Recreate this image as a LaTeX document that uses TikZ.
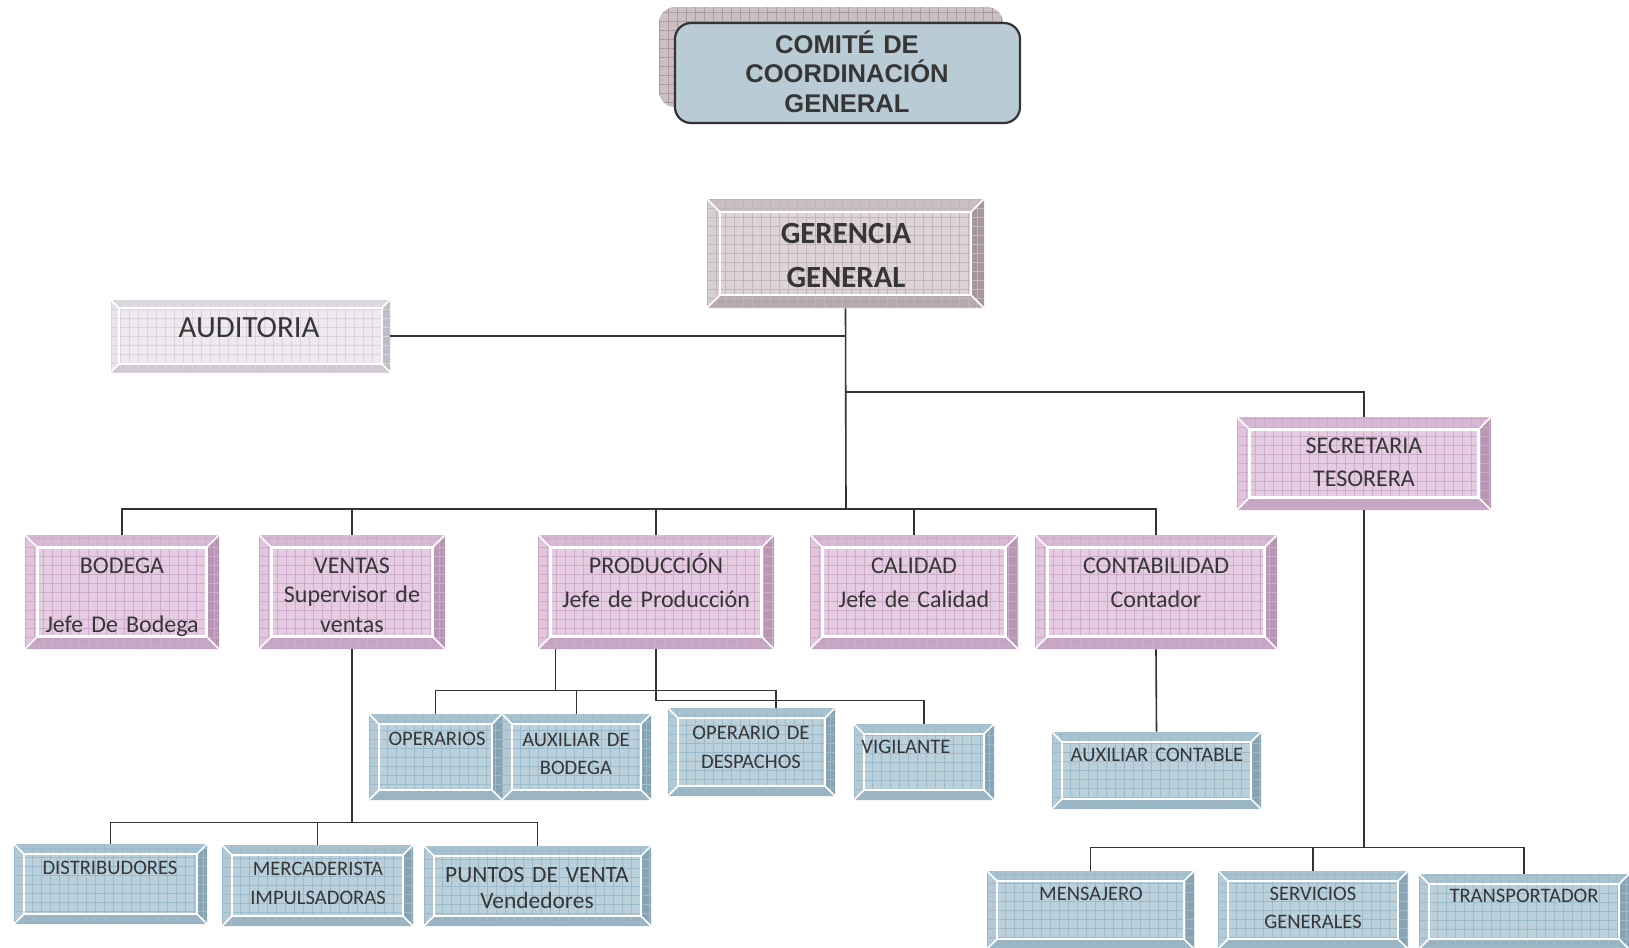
\documentclass[tikz,border=0pt]{standalone}
\usepackage{fontspec}
\setmainfont{Carlito}
\newfontfamily\arialfont{Liberation Sans}
\usetikzlibrary{fit,calc}

\definecolor{txtc}{HTML}{363636}
\definecolor{linec}{HTML}{333333}
% pink
\definecolor{pkB}{HTML}{E5CCE3}\definecolor{pkG}{HTML}{CDABCA}\definecolor{pkT}{HTML}{D8B9D5}
\definecolor{pkR}{HTML}{B797B4}\definecolor{pkD}{HTML}{C6A5C3}\definecolor{pkL}{HTML}{E0C5DD}
% gerencia
\definecolor{grB}{HTML}{DDD3D8}\definecolor{grG}{HTML}{C3B5BC}\definecolor{grT}{HTML}{CBBEC4}
\definecolor{grR}{HTML}{A6959D}\definecolor{grD}{HTML}{B7A8AF}\definecolor{grL}{HTML}{D7CDD2}
% auditoria
\definecolor{auB}{HTML}{EDE9EF}\definecolor{auG}{HTML}{D8D2DA}\definecolor{auT}{HTML}{DED8E0}
\definecolor{auR}{HTML}{C2BAC4}\definecolor{auD}{HTML}{D0C9D2}\definecolor{auL}{HTML}{E8E4EA}
% blue
\definecolor{blB}{HTML}{BAD0DB}\definecolor{blG}{HTML}{9BBACB}\definecolor{blT}{HTML}{A8C2D0}
\definecolor{blR}{HTML}{88A3B1}\definecolor{blD}{HTML}{9AB4C2}\definecolor{blL}{HTML}{B3CAD6}
% comite
\definecolor{cmB}{HTML}{B9CBD4}\definecolor{shB}{HTML}{CBC0C4}\definecolor{shG}{HTML}{A99BA1}

\def\bevw{6pt}
\tikzset{
  bw/.code={\def\bevw{#1}},
  palpink/.code={\colorlet{bvB}{pkB}\colorlet{bvG}{pkG}\colorlet{bvT}{pkT}\colorlet{bvR}{pkR}\colorlet{bvD}{pkD}\colorlet{bvL}{pkL}},
  palger/.code={\colorlet{bvB}{grB}\colorlet{bvG}{grG}\colorlet{bvT}{grT}\colorlet{bvR}{grR}\colorlet{bvD}{grD}\colorlet{bvL}{grL}},
  palaud/.code={\colorlet{bvB}{auB}\colorlet{bvG}{auG}\colorlet{bvT}{auT}\colorlet{bvR}{auR}\colorlet{bvD}{auD}\colorlet{bvL}{auL}},
  palblue/.code={\colorlet{bvB}{blB}\colorlet{bvG}{blG}\colorlet{bvT}{blT}\colorlet{bvR}{blR}\colorlet{bvD}{blD}\colorlet{bvL}{blL}},
  bev/.style={rectangle, inner sep=0pt, fill=bvB,
    path picture={
      \path (path picture bounding box.south west) coordinate (bvsw)
            (path picture bounding box.north east) coordinate (bvne)
            (path picture bounding box.north west) coordinate (bvnw)
            (path picture bounding box.south east) coordinate (bvse);
      \path ([shift={(\bevw,\bevw)}]bvsw) coordinate (bvisw)
            ([shift={(-\bevw,-\bevw)}]bvne) coordinate (bvine)
            ([shift={(\bevw,-\bevw)}]bvnw) coordinate (bvinw)
            ([shift={(-\bevw,\bevw)}]bvse) coordinate (bvise);
      \fill[bvB] (bvsw) rectangle (bvne);
      \fill[bvT] (bvnw) -- (bvne) -- (bvine) -- (bvinw) -- cycle;
      \fill[bvR] (bvne) -- (bvse) -- (bvise) -- (bvine) -- cycle;
      \fill[bvD] (bvse) -- (bvsw) -- (bvisw) -- (bvise) -- cycle;
      \fill[bvL] (bvsw) -- (bvnw) -- (bvinw) -- (bvisw) -- cycle;
      \draw[bvG, line width=0.35pt, step=4.5pt] (bvsw) grid (bvne);
      \draw[white, line width=1.1pt] (bvisw) rectangle (bvine);
      \draw[white, line width=0.8pt] (bvnw) -- (bvinw) (bvne) -- (bvine)
            (bvsw) -- (bvisw) (bvse) -- (bvise);
    }},
  pinkbox/.style={palpink, bw=6.25pt, bev},
  gerbox/.style={palger, bw=6.5pt, bev},
  audbox/.style={palaud, bw=4pt, bev},
  bluebox/.style={palblue, bw=5pt, bev},
  tn/.style={anchor=base, align=center, text width=200pt, inner sep=0pt, text=txtc},
  t12/.style={tn, font=\fontsize{12}{14.75}\selectfont},
  tb/.style={tn, font=\fontsize{10.3}{14}\selectfont},
  conn/.style={draw=linec, line width=0.8pt},
}

\begin{document}
\begin{tikzpicture}[x=0.5pt, y=-0.5pt]
\useasboundingbox (0,0) rectangle (1629,948);
\clip (0,0) rectangle (1629,948);

% Comite
\node[fit={(659,7) (1003,107)}, inner sep=0pt, rounded corners=8pt, fill=shB,
      path picture={\draw[shG, line width=0.35pt, step=4.5pt]
        (path picture bounding box.south west) grid (path picture bounding box.north east);}] (comS) {};
\node[fit={(675,23) (1020,123)}, inner sep=0pt, rounded corners=8pt, fill=cmB,
      draw=linec, line width=1.1pt] (com) {};
\node[tn, font=\arialfont\bfseries\fontsize{12.8}{14.9}\selectfont] (comT) at (847,53)
  {COMITÉ DE\\COORDINACIÓN\\GENERAL};

% main boxes
\node[gerbox, fit={(707,199) (984,308)}] (ger) {};
\node[audbox, fit={(111,300) (390,372)}] (aud) {};
\node[pinkbox, fit={(1237,417) (1491,510)}] (sec) {};
\node[pinkbox, fit={(25,535) (219,649)}] (bod) {};
\node[pinkbox, fit={(259,535) (445,649)}] (ven) {};
\node[pinkbox, fit={(538,535) (774,649)}] (pro) {};
\node[pinkbox, fit={(810,535) (1018,649)}] (cal) {};
\node[pinkbox, fit={(1035,535) (1277,649)}] (con) {};

% blue boxes
\node[bluebox, fit={(369,714) (502,800)}] (ope) {};
\node[bluebox, fit={(502,714) (651,800)}] (axb) {};
\node[bluebox, fit={(668,708) (835,796)}] (des) {};
\node[bluebox, fit={(854,724) (994,800)}] (vig) {};
\node[bluebox, fit={(1052,732) (1261,809)}] (axc) {};
\node[bluebox, fit={(14,844) (207,924)}] (dis) {};
\node[bluebox, fit={(222,845) (413,926)}] (mer) {};
\node[bluebox, fit={(424,846) (651,926)}] (pun) {};
\node[bluebox, fit={(987,871) (1194,949)}] (men) {};
\node[bluebox, fit={(1218,871) (1408,949)}] (ser) {};
\node[bluebox, fit={(1419,874) (1629,949)}] (tra) {};

% texts
\node[tn, font=\bfseries\fontsize{15.4}{22}\selectfont] (gerT) at (846,243) {GERENCIA\\GENERAL};
\node[tn, font=\fontsize{15.4}{18}\selectfont] (audT) at (249,337) {AUDITORIA};
\node[tn, font=\fontsize{12}{16.5}\selectfont] (secT) at (1364,453) {SECRETARIA\\TESORERA};
\node[tn, font=\fontsize{12}{29.5}\selectfont] (bodT) at (122,573) {BODEGA\\Jefe De Bodega};
\node[t12] (venT) at (352,573) {VENTAS\\Supervisor de\\ventas};
\node[tn, font=\fontsize{12}{17}\selectfont] (proT) at (656,573) {PRODUCCIÓN\\Jefe de Producción};
\node[tn, font=\fontsize{12}{17}\selectfont] (calT) at (914,573) {CALIDAD\\Jefe de Calidad};
\node[tn, font=\fontsize{12}{17}\selectfont] (conT) at (1156,573) {CONTABILIDAD\\Contador};

\node[tb] (opeT) at (437,745) {OPERARIOS};
\node[tb] (axbT) at (576,746) {AUXILIAR DE\\BODEGA};
\node[tb, font=\fontsize{10.3}{14.5}\selectfont] (desT) at (751,739) {OPERARIO DE\\DESPACHOS};
\node[tb] (vigT) at (906,753) {VIGILANTE};
\node[tb] (axcT) at (1157,761) {AUXILIAR CONTABLE};
\node[tb] (disT) at (110,874) {DISTRIBUDORES};
\node[tb, font=\fontsize{10.3}{14.5}\selectfont] (merT) at (318,875) {MERCADERISTA\\IMPULSADORAS};
\node[tn, font=\fontsize{11.7}{13}\selectfont] (punT) at (537,882) {PUNTOS DE VENTA\\Vendedores};
\node[tb] (menT) at (1091,900) {MENSAJERO};
\node[tb] (serT) at (1313,900) {SERVICIOS\\GENERALES};
\node[tb] (traT) at (1524,902) {TRANSPORTADOR};

% connectors
\coordinate (busA) at (846,509);
\coordinate (busS) at (846,392);
\draw[conn] (ger.south) -- (busA);
\draw[conn] (aud.east) -- (aud.east -| ger.south);
\draw[conn] (busS) -| (sec.north);
\draw[conn] (bod.north) |- (busA);
\draw[conn] (con.north) |- (busA);
\draw[conn] (ven.north) -- (ven.north |- busA);
\draw[conn] (pro.north) -- (pro.north |- busA);
\draw[conn] (cal.north) -- (cal.north |- busA);

\coordinate (pL) at ($(pro.south west)!0.0763!(pro.south east)$);
\draw[conn] (pL) -- ++(0,41) coordinate (pB) -| (ope.north);
\draw[conn] (pB) -| (axb.north);
\draw[conn] (pB) -| ([xshift=12.25pt]des.north);
\draw[conn] (pro.south) -- ++(0,51) -| (vig.north);

\draw[conn] (ven.south) -- ++(0,173) coordinate (vB) -| (dis.north);
\draw[conn] (vB) -| (mer.north);
\draw[conn] (vB) -| (pun.north);

\draw[conn] (con.south) -- (axc.north);

\draw[conn] (sec.south) -- ++(0,337) coordinate (sB) -| (men.north);
\draw[conn] (sB) -| (ser.north);
\draw[conn] (sB) -| (tra.north);
\end{tikzpicture}
\end{document}
